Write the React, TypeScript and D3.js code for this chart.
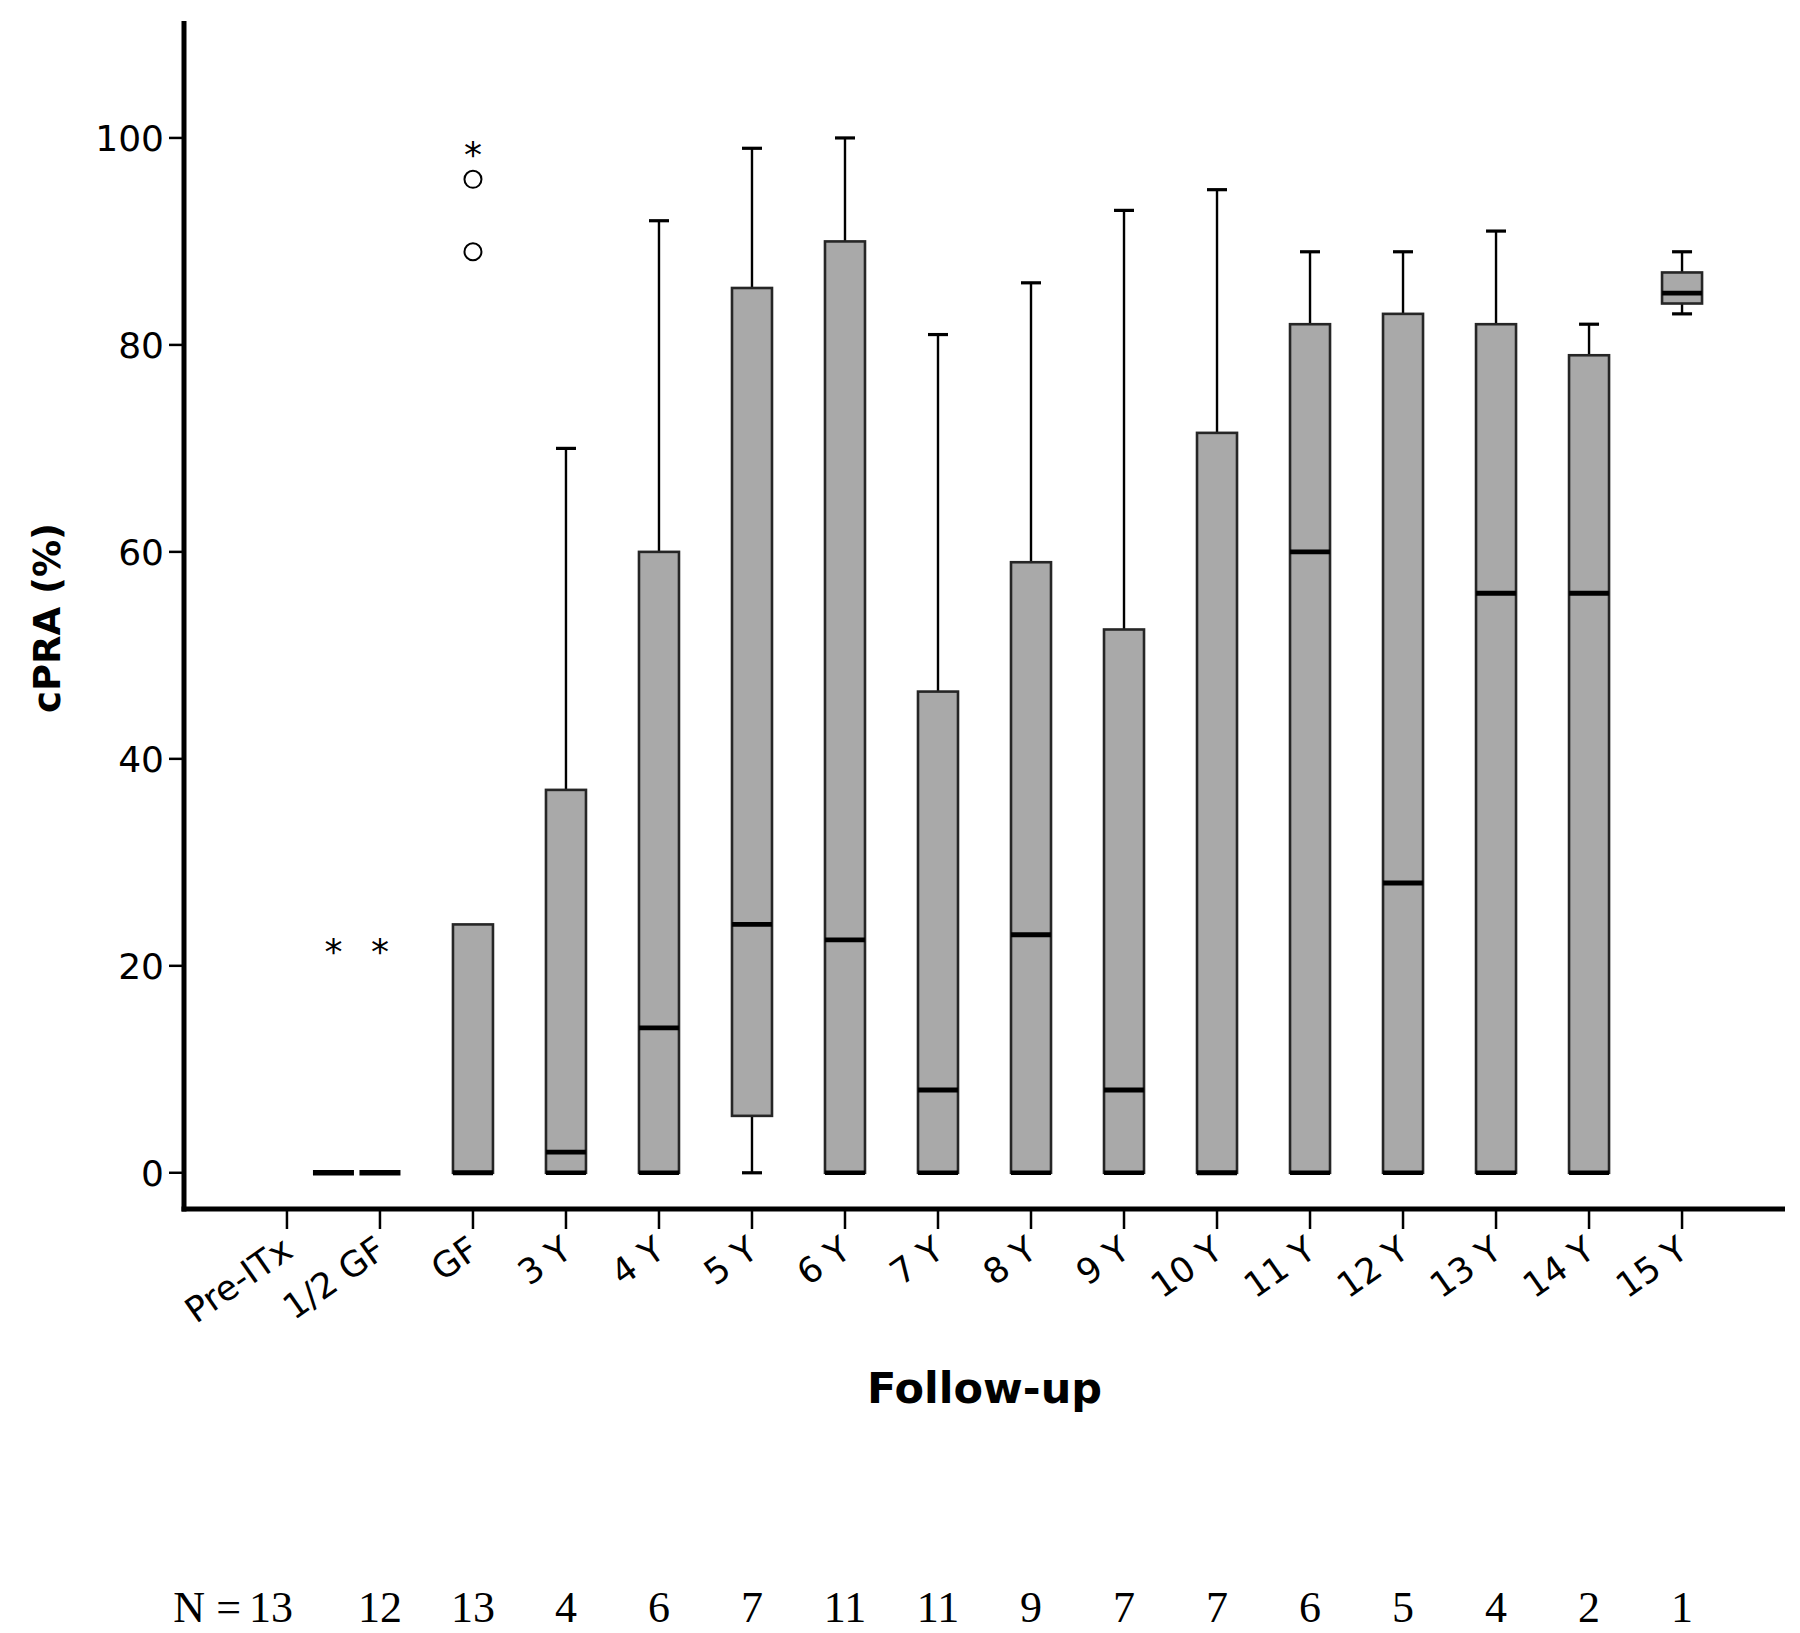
import React from "react";
import * as d3 from "d3";

const categories = ["Pre-ITx", "1/2 GF", "GF", "3 Y", "4 Y", "5 Y", "6 Y", "7 Y", "8 Y", "9 Y", "10 Y", "11 Y", "12 Y", "13 Y", "14 Y", "15 Y"];
const whiskerLow = [0, 0, 0, 0, 0, 0, 0, 0, 0, 0, 0, 0, 0, 0, 0, 83];
const q1 = [0, 0, 0, 0, 0, 5.5, 0, 0, 0, 0, 0, 0, 0, 0, 0, 84];
const median = [0, 0, 0, 2, 14, 24, 22.5, 8, 23, 8, 0, 60, 28, 56, 56, 85];
const q3 = [0, 0, 24, 37, 60, 85.5, 90, 46.5, 59, 52.5, 71.5, 82, 83, 82, 79, 87];
const whiskerHigh = [0, 0, 24, 70, 92, 99, 100, 81, 86, 93, 95, 89, 89, 91, 82, 89];
const nCounts = [13, 12, 13, 4, 6, 7, 11, 11, 9, 7, 7, 6, 5, 4, 2, 1];

const outlierCategory = ["Pre-ITx", "1/2 GF", "GF", "GF", "GF"];
const outlierValue = [22, 22, 99, 96, 89];
const outlierType = ["star", "star", "star", "circle", "circle"];

const yTicks = [0, 20, 40, 60, 80, 100];

const W = 1800;
const H = 1633;
const left = 184;
const right = 1785;
const top = 21;
const bottom = 1209;

export default function App() {
  const x = d3.scalePoint<string>().domain(categories).range([left, right]).padding(1.107);
  const y = d3.scaleLinear().domain([-3.5, 111.3]).range([bottom, top]);
  const step = x.step();
  const markX = (c: string) => (x(c) as number) + (c === "Pre-ITx" ? step / 2 : 0);
  const boxW = 40;
  const capW = 20;
  const tickFont = "'DejaVu Sans', Verdana, sans-serif";
  const serif = "'Liberation Serif', 'Times New Roman', serif";

  return (
    <svg
      width={W}
      height={H}
      viewBox={`0 0 ${W} ${H}`}
      style={{ position: "absolute", left: 0, top: 0, background: "#fff" }}
    >
      <rect x={0} y={0} width={W} height={H} fill="#fff" />

      {/* boxes */}
      {categories.map((c, i) => {
        const cx = markX(c);
        const lo = whiskerLow[i];
        const a = q1[i];
        const m = median[i];
        const b = q3[i];
        const hi = whiskerHigh[i];
        const collapsed = a === b;
        return (
          <g key={c}>
            {hi > b && (
              <>
                <line x1={cx} x2={cx} y1={y(b)} y2={y(hi)} stroke="#000" strokeWidth={2.4} />
                <line x1={cx - capW / 2} x2={cx + capW / 2} y1={y(hi)} y2={y(hi)} stroke="#000" strokeWidth={3.2} />
              </>
            )}
            {lo < a && (
              <>
                <line x1={cx} x2={cx} y1={y(a)} y2={y(lo)} stroke="#000" strokeWidth={2.4} />
                <line x1={cx - capW / 2} x2={cx + capW / 2} y1={y(lo)} y2={y(lo)} stroke="#000" strokeWidth={3.2} />
              </>
            )}
            {!collapsed && (
              <rect
                x={cx - boxW / 2}
                y={y(b)}
                width={boxW}
                height={y(a) - y(b)}
                fill="#a9a9a9"
                stroke="#262626"
                strokeWidth={2.6}
              />
            )}
            {!collapsed && lo === a && (
              <line x1={cx - boxW / 2} x2={cx + boxW / 2} y1={y(a)} y2={y(a)} stroke="#000" strokeWidth={4.5} />
            )}
            <line
              x1={cx - boxW / 2 - (collapsed ? 0.5 : 0)}
              x2={cx + boxW / 2 + (collapsed ? 0.5 : 0)}
              y1={y(m)}
              y2={y(m)}
              stroke="#000"
              strokeWidth={collapsed ? 5.5 : 4.8}
            />
          </g>
        );
      })}

      {/* outliers */}
      {outlierValue.map((v, i) => {
        const cx = markX(outlierCategory[i]);
        if (outlierType[i] === "circle") {
          return <circle key={i} cx={cx} cy={y(v)} r={8.5} fill="#fff" stroke="#000" strokeWidth={2} />;
        }
        return (
          <text
            key={i}
            x={cx}
            y={y(v) + 19}
            textAnchor="middle"
            fontFamily={tickFont}
            fontSize={36}
            fill="#000"
          >
            *
          </text>
        );
      })}

      {/* y axis */}
      <line x1={left} x2={left} y1={top} y2={bottom + 2.5} stroke="#000" strokeWidth={5} />
      {yTicks.map((t) => (
        <g key={t}>
          <line x1={left - 15} x2={left} y1={y(t)} y2={y(t)} stroke="#000" strokeWidth={2.5} />
          <text
            x={left - 20}
            y={y(t)}
            dy="0.36em"
            textAnchor="end"
            fontFamily={tickFont}
            fontSize={36}
            fill="#000"
          >
            {t}
          </text>
        </g>
      ))}

      {/* x axis */}
      <line x1={left - 2.5} x2={right} y1={bottom} y2={bottom} stroke="#000" strokeWidth={5} />
      {categories.map((c) => {
        const cx = x(c) as number;
        return (
          <g key={c}>
            <line x1={cx} x2={cx} y1={bottom} y2={bottom + 20} stroke="#000" strokeWidth={2.5} />
            <text
              transform={`translate(${cx + 8},${bottom + 46}) rotate(-35)`}
              textAnchor="end"
              fontFamily={tickFont}
              fontSize={35}
              fill="#000"
            >
              {c}
            </text>
          </g>
        );
      })}

      {/* axis titles */}
      <text
        transform={`translate(${60},${618}) rotate(-90)`}
        textAnchor="middle"
        fontFamily={tickFont}
        fontWeight="bold"
        fontSize={37}
        fill="#000"
      >
        cPRA (%)
      </text>
      <text
        x={(left + right) / 2}
        y={1403}
        textAnchor="middle"
        fontFamily={tickFont}
        fontWeight="bold"
        fontSize={43}
        fill="#000"
      >
        Follow-up
      </text>

      {/* N counts */}
      <text
        x={(x(categories[0]) as number) - 46}
        y={1622}
        textAnchor="end"
        fontFamily={serif}
        fontSize={44}
        fill="#000"
      >
        N =
      </text>
      {categories.map((c, i) => (
        <text
          key={c}
          x={(x(c) as number) - (i === 0 ? 16 : 0)}
          y={1622}
          textAnchor="middle"
          fontFamily={serif}
          fontSize={44}
          fill="#000"
        >
          {nCounts[i]}
        </text>
      ))}
    </svg>
  );
}
